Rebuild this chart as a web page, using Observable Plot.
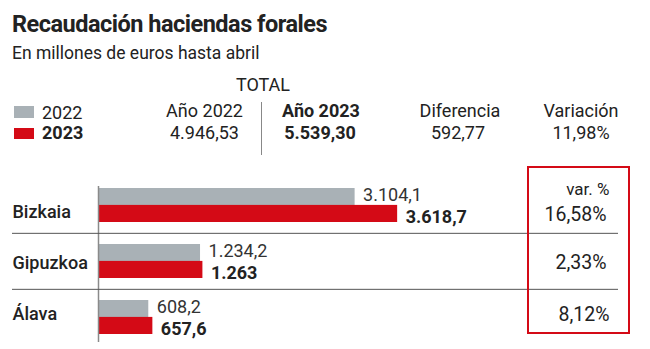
<!DOCTYPE html>
<html>
<head>
<meta charset="utf-8">
<script src="https://cdn.jsdelivr.net/npm/d3@7"></script>
<script src="https://cdn.jsdelivr.net/npm/@observablehq/plot@0.6"></script>
<style>
  html, body { margin: 0; padding: 0; background: #fff; }
  #wrap { position: relative; width: 650px; height: 349px; overflow: hidden; font-family: Roboto, "Noto Sans", sans-serif; color: #222; }
  .t { position: absolute; line-height: 1; white-space: nowrap; }
  .c { text-align: center; }
  .r { text-align: right; }
  .b { font-weight: 700; }
  .sw { position: absolute; width: 20px; }
  #chart { position: absolute; left: 0; top: 165px; }
  #box { position: absolute; left: 527px; top: 166px; width: 99px; height: 164px; border: 2px solid #d40a16; }
</style>
</head>
<body>
<div id="wrap">
  <div class="t b" style="left:12px; top:13px; font-size:23.5px; letter-spacing:-0.5px;">Recaudación haciendas forales</div>
  <div class="t" style="left:12px; top:45.2px; font-size:17.5px;">En millones de euros hasta abril</div>
  <div class="t c" style="left:213px; width:100px; top:75.8px; font-size:18px;">TOTAL</div>
  <div class="sw" style="left:14px; top:106px; height:12px; background:#a9b1b6;"></div>
  <div class="sw" style="left:14px; top:128px; height:11px; background:#d40a16;"></div>
  <div class="t" id="leg2022" style="left:42px; top:103.8px; font-size:18px;"></div>
  <div class="t b" id="leg2023" style="left:42px; top:123.8px; font-size:18px;"></div>
  <div class="t r" id="h2022" style="left:123px; width:120px; top:102.3px; font-size:18px;"></div>
  <div class="t r" id="v2022" style="left:119px; width:120px; top:123.8px; font-size:18px;"></div>
  <div style="position:absolute; left:261px; top:102px; width:1px; height:53px; background:#888;"></div>
  <div class="t c b" id="h2023" style="left:261px; width:120px; top:102.3px; font-size:18px;"></div>
  <div class="t c b" id="v2023" style="left:260px; width:120px; top:123.8px; font-size:18px;"></div>
  <div class="t c" id="hdif" style="left:400px; width:120px; top:102.3px; font-size:18px;"></div>
  <div class="t c" id="vdif" style="left:398px; width:120px; top:123.8px; font-size:18px;"></div>
  <div class="t c" id="hvar" style="left:521px; width:120px; top:102.3px; font-size:18px;"></div>
  <div class="t c" id="vvar" style="left:521px; width:120px; top:123.8px; font-size:18px;"></div>
  <div id="chart"></div>
  <div id="box"></div>
</div>
<script>
// ---- Data ----
const years = ["2022", "2023"];
const totalHeaders = ["Año 2022", "Año 2023", "Diferencia", "Variación"];
const totalValues = ["4.946,53", "5.539,30", "592,77", "11,98%"];
const regions = ["Bizkaia", "Gipuzkoa", "Álava"];
const values2022 = [3104.1, 1234.2, 608.2];
const values2023 = [3618.7, 1263, 657.6];
const labels2022 = ["3.104,1", "1.234,2", "608,2"];
const labels2023 = ["3.618,7", "1.263", "657,6"];
const variation = ["16,58%", "2,33%", "8,12%"];
const varHeader = "var. %";

// ---- Header texts ----
document.getElementById("leg2022").textContent = years[0];
document.getElementById("leg2023").textContent = years[1];
document.getElementById("h2022").textContent = totalHeaders[0];
document.getElementById("h2023").textContent = totalHeaders[1];
document.getElementById("hdif").textContent = totalHeaders[2];
document.getElementById("hvar").textContent = totalHeaders[3];
document.getElementById("v2022").textContent = totalValues[0];
document.getElementById("v2023").textContent = totalValues[1];
document.getElementById("vdif").textContent = totalValues[2];
document.getElementById("vvar").textContent = totalValues[3];

// ---- Chart ----
const rows = regions.map((r, i) => ({
  region: r, idx: i, v2022: values2022[i], v2023: values2023[i],
  l2022: labels2022[i], l2023: labels2023[i], varp: variation[i]
}));

const W = 650, H = 184, mT = 11, mB = 4, pIn = 0.4, pOut = 0.2;
const step = (H - mT - mB) / (regions.length - pIn + 2 * pOut);
const half = step * (1 - pIn) / 2;
const gray = "#a9b1b6", red = "#d40a16", ink = "#222";
const font = "Roboto, 'Noto Sans', sans-serif";

const rowLabel = (i, dy) => Plot.text(rows.filter(d => d.idx === i), {
  y: "region", text: "region", frameAnchor: "left", dx: -86, dy,
  textAnchor: "start", fill: ink, fontWeight: 500, fontSize: 18
});
const varLabel = (i, dy, dx) => Plot.text(rows.filter(d => d.idx === i), {
  y: "region", text: "varp", frameAnchor: "right", dx, dy,
  textAnchor: "end", fill: ink, fontSize: 19.5
});

const chart = Plot.plot({
  width: W, height: H,
  marginLeft: 98, marginRight: 56, marginTop: mT, marginBottom: mB,
  x: {domain: [0, 6000], axis: null},
  y: {domain: regions, paddingInner: pIn, paddingOuter: pOut, axis: null},
  style: {fontFamily: font, fontSize: "18px", color: ink, background: "transparent", overflow: "visible"},
  marks: [
    Plot.barX(rows, {x: "v2022", y: "region", fill: gray, insetBottom: half}),
    Plot.barX(rows, {x: "v2023", y: "region", fill: red, insetTop: half}),
    Plot.ruleX([0], {stroke: "#8a8a8a", strokeWidth: 1.5, insetTop: 10, insetBottom: 3}),
    Plot.ruleY(regions.slice(1), {y: d => d, dy: -step / 2, stroke: "#555", insetLeft: -86, insetRight: -24}),
    Plot.text(rows, {x: "v2022", y: "region", text: "l2022", dx: 8, dy: -half / 2 - 1.5, textAnchor: "start", fill: "#333"}),
    Plot.text(rows, {x: "v2023", y: "region", text: "l2023", dx: 8, dy: half / 2 + 3, textAnchor: "start", fill: ink, fontWeight: "bold"}),
    rowLabel(0, 7),
    rowLabel(1, 2),
    rowLabel(2, -3),
    varLabel(0, 9, 12),
    varLabel(1, 1, 12),
    varLabel(2, -3, 15),
    Plot.text([varHeader], {text: d => d, frameAnchor: "top-right", dx: 15, dy: 6.5, textAnchor: "end", fill: ink, fontSize: 17})
  ]
});
document.getElementById("chart").appendChild(chart);
</script>
</body>
</html>
